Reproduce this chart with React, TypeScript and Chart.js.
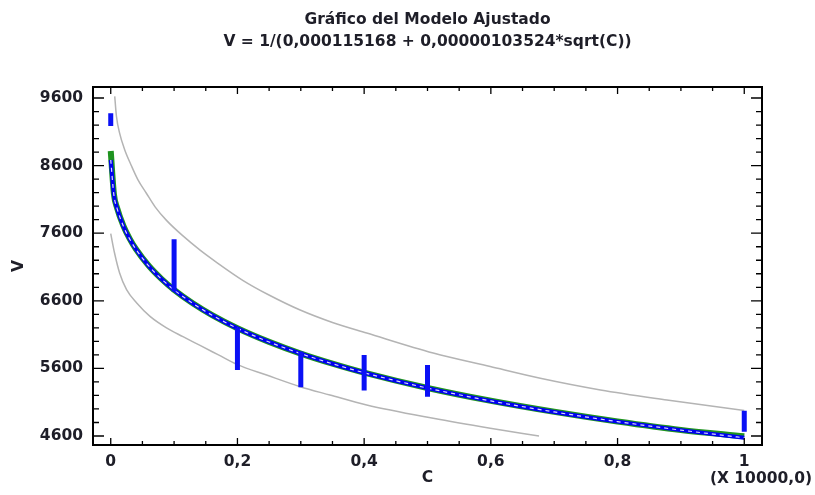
import React, { useEffect, useRef } from 'react';
import { Chart, registerables } from 'chart.js';

Chart.register(...registerables);

// ---- texts ----
const titleLines = ['Gráfico del Modelo Ajustado', 'V = 1/(0,000115168 + 0,00000103524*sqrt(C))'];
const xAxisTitle = 'C';
const yAxisTitle = 'V';
const xScaleNote = '(X 10000,0)';

// ---- ticks ----
const xTickValues = [0, 0.2, 0.4, 0.6, 0.8, 1];
const xMinorTickValues = [0.05, 0.1, 0.15, 0.25, 0.3, 0.35, 0.45, 0.5, 0.55, 0.65, 0.7, 0.75, 0.85, 0.9, 0.95];
const yTickValues = [4600, 5600, 6600, 7600, 8600, 9600];
const yMinorTickValues = [4800, 5000, 5200, 5400, 5800, 6000, 6200, 6400, 6800, 7000, 7200, 7400, 7800, 8000, 8200, 8400, 8800, 9000, 9200, 9400];

// ---- fitted model (C in units of 10000) ----
const fitX = [0, 0.005, 0.01, 0.02, 0.03, 0.04, 0.06, 0.08, 0.1, 0.13, 0.16, 0.2, 0.25, 0.3, 0.35, 0.4, 0.5, 0.6, 0.7, 0.8, 0.9, 1.0];
const fitV = [8683, 8164, 7967, 7704, 7513, 7360, 7116, 6923, 6761, 6558, 6387, 6193, 5991, 5818, 5669, 5536, 5309, 5119, 4956, 4813, 4687, 4573];
const greenV = [8815, 8180, 7975, 7708, 7516, 7362, 7118, 6925, 6763, 6560, 6389, 6195, 5993, 5820, 5671, 5538, 5311, 5121, 4958, 4815, 4690, 4595];

// ---- prediction limits ----
const upperX = [0.0063, 0.009, 0.014, 0.022, 0.033, 0.043, 0.056, 0.07, 0.088, 0.114, 0.141, 0.167, 0.209, 0.249, 0.299, 0.35, 0.404, 0.509, 0.599, 0.678, 0.773, 0.878, 1.0];
const upperV = [9624, 9330, 9080, 8835, 8590, 8390, 8195, 7990, 7790, 7560, 7350, 7170, 6900, 6690, 6464, 6280, 6124, 5828, 5627, 5454, 5281, 5133, 4976];
const lowerX = [0, 0.006, 0.014, 0.025, 0.041, 0.062, 0.088, 0.114, 0.141, 0.17, 0.199, 0.246, 0.299, 0.346, 0.404, 0.509, 0.599, 0.676];
const lowerV = [7593, 7307, 7012, 6765, 6567, 6370, 6200, 6070, 5940, 5800, 5660, 5502, 5330, 5207, 5059, 4862, 4715, 4600];

// ---- observations (range of points at each C) ----
const obsX = [0, 0.1, 0.2, 0.3, 0.4, 0.5, 1.0];
const obsLow = [9186, 6736, 5576, 5322, 5272, 5181, 4663];
const obsHigh = [9375, 7511, 6200, 5850, 5800, 5650, 4973];

const FONT_FAMILY = '"DejaVu Sans", "Liberation Sans", Arial, sans-serif';
const TEXT_COLOR = '#1e1e28';

const zip = (xs: number[], ys: number[]) => xs.map((x, i) => ({ x, y: ys[i] }));

const framePlugin = {
  id: 'frameTicks',
  afterDatasetsDraw(chart: any) {
    const { ctx, chartArea } = chart;
    const { left, right, top, bottom } = chartArea;
    const xs = chart.scales.x;
    const ys = chart.scales.y;
    ctx.save();
    ctx.strokeStyle = '#000';
    ctx.lineWidth = 1.3;
    ctx.beginPath();
    const tick = (x1: number, y1: number, x2: number, y2: number) => {
      ctx.moveTo(x1, y1);
      ctx.lineTo(x2, y2);
    };
    xTickValues.forEach((v) => {
      const p = xs.getPixelForValue(v);
      tick(p, bottom, p, bottom - 7);
      tick(p, top, p, top + 7);
    });
    xMinorTickValues.forEach((v) => {
      const p = xs.getPixelForValue(v);
      tick(p, bottom, p, bottom - 4);
      tick(p, top, p, top + 4);
    });
    yTickValues.forEach((v) => {
      const p = ys.getPixelForValue(v);
      tick(left, p, left + 11, p);
      tick(right, p, right - 11, p);
    });
    yMinorTickValues.forEach((v) => {
      const p = ys.getPixelForValue(v);
      tick(left, p, left + 6, p);
      tick(right, p, right - 6, p);
    });
    ctx.stroke();
    ctx.lineWidth = 2;
    ctx.strokeRect(left, top, right - left, bottom - top);
    ctx.restore();
  },
  afterDraw(chart: any) {
    const { ctx, chartArea } = chart;
    const cx = (chartArea.left + chartArea.right) / 2;
    ctx.save();
    ctx.fillStyle = TEXT_COLOR;
    ctx.font = `bold 15.5px ${FONT_FAMILY}`;
    ctx.textAlign = 'center';
    ctx.textBaseline = 'middle';
    ctx.fillText(titleLines[0], cx, 20);
    ctx.fillText(titleLines[1], cx, 42);
    ctx.textAlign = 'right';
    ctx.fillText(xScaleNote, 812, 479);
    ctx.restore();
  },
};

export default function App() {
  const canvasRef = useRef<HTMLCanvasElement | null>(null);

  useEffect(() => {
    document.body.style.margin = '0';
    document.body.style.background = '#fff';
    const canvas = canvasRef.current;
    if (!canvas) return;

    const obsData: any[] = [];
    obsX.forEach((x, i) => {
      obsData.push({ x, y: obsLow[i] });
      obsData.push({ x, y: obsHigh[i] });
      obsData.push({ x, y: null });
    });

    const font = { family: FONT_FAMILY, size: 15.5, weight: 'bold' as const };

    const chart = new Chart(canvas, {
      type: 'line',
      data: {
        datasets: [
          {
            label: 'upper',
            data: zip(upperX, upperV),
            borderColor: '#b4b4b4',
            borderWidth: 1.5,
            pointRadius: 0,
            cubicInterpolationMode: 'monotone',
            order: 6,
          },
          {
            label: 'lower',
            data: zip(lowerX, lowerV),
            borderColor: '#b4b4b4',
            borderWidth: 1.5,
            pointRadius: 0,
            cubicInterpolationMode: 'monotone',
            order: 6,
          },
          {
            label: 'green',
            data: zip(fitX, greenV),
            borderColor: '#1f931f',
            borderWidth: 6,
            pointRadius: 0,
            cubicInterpolationMode: 'monotone',
            order: 5,
          },
          {
            label: 'fit',
            data: zip(fitX, fitV),
            borderColor: '#0000f0',
            borderWidth: 4,
            pointRadius: 0,
            cubicInterpolationMode: 'monotone',
            order: 4,
          },
          {
            label: 'fitcenter',
            data: zip(fitX, fitV),
            borderColor: 'rgba(255,255,255,0.85)',
            borderWidth: 1.2,
            borderDash: [4, 4],
            pointRadius: 0,
            cubicInterpolationMode: 'monotone',
            order: 3,
          },
          {
            label: 'obs',
            data: obsData,
            borderColor: '#0a10f5',
            borderWidth: 5,
            borderCapStyle: 'butt',
            pointRadius: 0,
            spanGaps: false,
            order: 1,
          },
        ] as any,
      },
      options: {
        animation: false,
        responsive: true,
        maintainAspectRatio: false,
        parsing: true,
        layout: { padding: { top: 87, right: 53, left: 0, bottom: 0 } },
        plugins: {
          legend: { display: false },
          tooltip: { enabled: false },
          title: { display: false },
        },
        scales: {
          x: {
            type: 'linear',
            min: -0.028,
            max: 1.028,
            grid: { display: false, drawTicks: false },
            border: { display: false },
            afterBuildTicks: (s: any) => {
              s.ticks = xTickValues.map((v) => ({ value: v }));
            },
            afterFit: (s: any) => {
              s.height = 50;
            },
            ticks: {
              font,
              color: TEXT_COLOR,
              padding: 8,
              maxRotation: 0,
              autoSkip: false,
              callback: (v: any) => String(v).replace('.', ','),
            },
            title: {
              display: true,
              text: xAxisTitle,
              font,
              color: TEXT_COLOR,
              padding: { top: 0, bottom: 8 },
            },
          },
          y: {
            type: 'linear',
            min: 4467,
            max: 9763,
            grid: { display: false, drawTicks: false },
            border: { display: false },
            afterBuildTicks: (s: any) => {
              s.ticks = yTickValues.map((v) => ({ value: v }));
            },
            afterFit: (s: any) => {
              s.width = 93;
            },
            ticks: {
              font,
              color: TEXT_COLOR,
              padding: 10,
              autoSkip: false,
              callback: (v: any) => String(v),
            },
            title: {
              display: true,
              text: yAxisTitle,
              font,
              color: TEXT_COLOR,
              padding: { top: 10, bottom: 0 },
            },
          },
        },
      },
      plugins: [framePlugin],
    });

    return () => chart.destroy();
  }, []);

  return (
    <div style={{ position: 'relative', width: 815, height: 495, background: '#fff' }}>
      <canvas ref={canvasRef} />
    </div>
  );
}
